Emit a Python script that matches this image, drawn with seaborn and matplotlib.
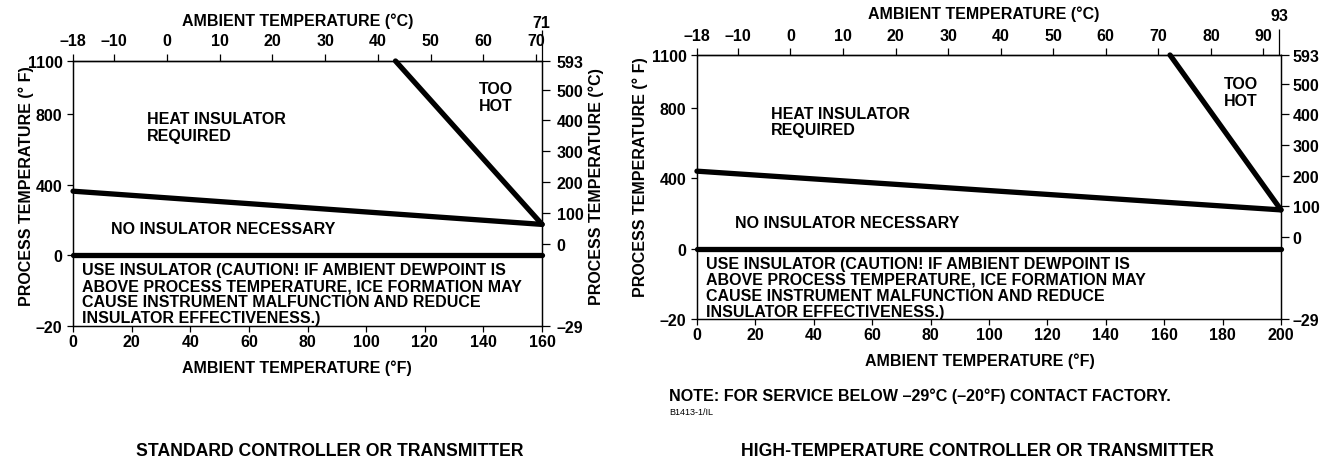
import numpy as np
import pandas as pd
import matplotlib.pyplot as plt
import seaborn as sns

# boundary lines (ambient degF, process degF)
std_lower_x = [0, 160]
std_lower_y = [363, 175]
std_upper_x = [110, 160]
std_upper_y = [1100, 175]
std_zero_x = [0, 160]
std_zero_y = [0, 0]

hi_lower_x = [0, 200]
hi_lower_y = [440, 220]
hi_upper_x = [162, 200]
hi_upper_y = [1100, 220]
hi_zero_x = [0, 200]
hi_zero_y = [0, 0]

# tick values and labels
proc_f_ticks = [-20, 0, 400, 800, 1100]
proc_f_labels = ["–20", "0", "400", "800", "1100"]
proc_c_ticks = [-29, 0, 100, 200, 300, 400, 500, 593]
proc_c_labels = ["–29", "0", "100", "200", "300", "400", "500", "593"]
std_amb_f_ticks = [0, 20, 40, 60, 80, 100, 120, 140, 160]
hi_amb_f_ticks = [0, 20, 40, 60, 80, 100, 120, 140, 160, 180, 200]
std_amb_c_ticks = [-18, -10, 0, 10, 20, 30, 40, 50, 60, 70]
hi_amb_c_ticks = [-18, -10, 0, 10, 20, 30, 40, 50, 60, 70, 80, 90]
std_amb_c_max = 71
hi_amb_c_max = 93

sns.set_style("ticks")
plt.rcParams['font.family'] = ['Liberation Sans', 'DejaVu Sans']
plt.rcParams['font.weight'] = 'bold'
plt.rcParams['font.size'] = 11
plt.rcParams['text.color'] = 'black'
plt.rcParams['axes.labelcolor'] = 'black'
plt.rcParams['axes.labelweight'] = 'bold'
plt.rcParams['axes.linewidth'] = 0.9
plt.rcParams['xtick.major.width'] = 0.9
plt.rcParams['ytick.major.width'] = 0.9
plt.rcParams['xtick.minor.width'] = 0.9
plt.rcParams['axes.edgecolor'] = 'black'
plt.rcParams['xtick.color'] = 'black'
plt.rcParams['ytick.color'] = 'black'

FS = 11.5


# below zero the scale is stretched, like the printed chart
def f_fwd(y):
    y = np.asarray(y, dtype=float)
    return np.where(y < 0, y * 20.0, y)


def f_inv(y):
    y = np.asarray(y, dtype=float)
    return np.where(y < 0, y / 20.0, y)


def c_fwd(y):
    y = np.asarray(y, dtype=float)
    return np.where(y < 0, y * 9.2, y)


def c_inv(y):
    y = np.asarray(y, dtype=float)
    return np.where(y < 0, y / 9.2, y)


def f2c(f):
    return (np.asarray(f, dtype=float) - 32) / 1.8


def c2f(c):
    return np.asarray(c, dtype=float) * 1.8 + 32


def dash(v):
    return str(v).replace('-', '–')


fig = plt.figure(figsize=(13.28, 4.64), dpi=100)
ax1 = fig.add_axes([0.0550, 0.2953, 0.3532, 0.5711])
ax2 = fig.add_axes([0.5248, 0.3103, 0.4398, 0.5690])

panels = [
    (ax1, 160, std_amb_f_ticks, std_amb_c_ticks, std_amb_c_max,
     [(std_lower_x, std_lower_y), (std_upper_x, std_upper_y), (std_zero_x, std_zero_y)]),
    (ax2, 200, hi_amb_f_ticks, hi_amb_c_ticks, hi_amb_c_max,
     [(hi_lower_x, hi_lower_y), (hi_upper_x, hi_upper_y), (hi_zero_x, hi_zero_y)]),
]

for ax, xmax, fticks, cticks, cmax, lines in panels:
    ax.set_yscale('function', functions=(f_fwd, f_inv))
    for lx, ly in lines:
        sns.lineplot(x=lx, y=ly, ax=ax, color='black', lw=3.8,
                     solid_capstyle='round', clip_on=False, zorder=5)
    ax.set_xlim(0, xmax)
    ax.set_ylim(-20, 1100)
    ax.set_xticks(fticks, labels=[str(t) for t in fticks])
    ax.set_yticks(proc_f_ticks, labels=proc_f_labels)
    ax.tick_params(axis='x', length=4, pad=2, labelsize=FS)
    ax.tick_params(axis='y', length=4.5, pad=3, labelsize=FS)
    ax.set_xlabel('AMBIENT TEMPERATURE (°F)', fontsize=FS, fontweight='bold')
    ax.set_ylabel('PROCESS TEMPERATURE (° F)', fontsize=FS, fontweight='bold')

    # Celsius on top; -18 sits on the 0 degF edge of the frame
    sec = ax.secondary_xaxis('top', functions=(f2c, c2f))
    cpos = np.clip(cticks, f2c(0), f2c(xmax))
    sec.set_xticks(cpos, labels=[dash(t) for t in cticks])
    sec.set_xticks([min(cmax, float(f2c(xmax)))], labels=[str(cmax)], minor=True)
    sec.tick_params(axis='x', which='major', length=5, pad=4, labelsize=FS)
    sec.set_xlabel('AMBIENT TEMPERATURE (°C)', fontsize=FS, fontweight='bold')

    # Celsius on the right
    tw = ax.twinx()
    tw.set_yscale('function', functions=(c_fwd, c_inv))
    tw.set_ylim(-29, 593)
    tw.set_yticks(proc_c_ticks, labels=proc_c_labels)
    tw.tick_params(axis='y', length=5.5, pad=3, labelsize=FS)
    for s in ['left', 'right', 'top', 'bottom']:
        ax.spines[s].set_visible(True)
        tw.spines[s].set_visible(True)

    ax._sec = sec
    ax._tw = tw

# panel specific details
ax1._sec.tick_params(axis='x', which='minor', length=22, pad=0, labelsize=FS)
ax2._sec.tick_params(axis='x', which='minor', length=19, pad=4, labelsize=FS)
ax1._sec.xaxis.set_label_coords(0.48, 1.136, transform=ax1.transAxes)
ax2._sec.xaxis.set_label_coords(0.491, 1.14, transform=ax2.transAxes)
ax1.xaxis.set_label_coords(0.478, -0.128)
ax2.xaxis.set_label_coords(0.485, -0.125)
ax1.yaxis.set_label_coords(-0.083, 0.53)
ax2.yaxis.set_label_coords(-0.084, 0.54)
ax1._tw.set_ylabel('PROCESS TEMPERATURE (°C)', fontsize=FS, fontweight='bold')
ax1._tw.yaxis.set_label_coords(1.098, 0.53)
ax1._tw.tick_params(axis='y', pad=5)

caution = ("USE INSULATOR (CAUTION! IF AMBIENT DEWPOINT IS\n"
           "ABOVE PROCESS TEMPERATURE, ICE FORMATION MAY\n"
           "CAUSE INSTRUMENT MALFUNCTION AND REDUCE\n"
           "INSULATOR EFFECTIVENESS.)")

for ax, hot_x, hot_y, heat_y, no_y, use_y in [(ax1, 138.5, 896, 726, 153, 0.122),
                                              (ax2, 180.5, 890, 720, 147, 0.12)]:
    ax.text(25.3, heat_y, 'HEAT INSULATOR\nREQUIRED', ha='left', va='center',
            fontsize=FS, fontweight='bold', linespacing=1.1)
    ax.text(hot_x, hot_y, 'TOO\nHOT', ha='left', va='center',
            fontsize=FS, fontweight='bold', linespacing=1.1)
    ax.text(13, no_y, 'NO INSULATOR NECESSARY', ha='left', va='center',
            fontsize=FS, fontweight='bold')
    ax.text(3, use_y, caution, ha='left', va='center', fontsize=FS,
            fontweight='bold', linespacing=1.08, transform=ax.get_xaxis_transform())

fig.text(0.5038, 0.1466, 'NOTE: FOR SERVICE BELOW –29°C (–20°F) CONTACT FACTORY.',
         ha='left', va='center', fontsize=11.6, fontweight='bold')
fig.text(0.5038, 0.110, 'B1413-1/IL', ha='left', va='center', fontsize=6.5,
         fontweight='normal')

title_font = ['Liberation Sans Narrow', 'Liberation Sans', 'DejaVu Sans']
fig.text(0.2485, 0.026, 'STANDARD CONTROLLER OR TRANSMITTER', ha='center',
         va='center', fontsize=12.7, fontweight='bold', family=title_font)
fig.text(0.7357, 0.026, 'HIGH-TEMPERATURE CONTROLLER OR TRANSMITTER', ha='center',
         va='center', fontsize=12.7, fontweight='bold', family=title_font)

fig.savefig('out.png', dpi=100)
